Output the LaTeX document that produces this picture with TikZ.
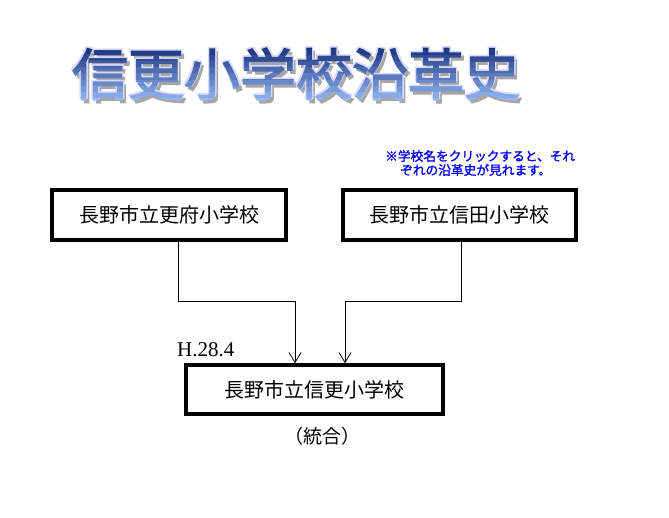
\documentclass[tikz,border=0pt]{standalone}
\usepackage{fontspec}
\newfontfamily\jp{Noto Sans CJK JP}
\newfontfamily\jpbold{Noto Sans CJK JP}[FakeBold=1.5]
\newfontfamily\jptitle{Noto Sans CJK JP}[FakeBold=2.5]
\setmainfont{Liberation Serif}
\usetikzlibrary{arrows.meta}
\definecolor{tdark}{RGB}{20,45,120}
\definecolor{tlight}{RGB}{150,185,245}
\definecolor{notecol}{RGB}{0,0,255}
\newcommand{\ttltxt}{信更小学校沿革史}
\begin{document}
\begin{tikzpicture}[x=1pt,y=-1pt,
  box/.style={draw, line width=3.5pt, inner sep=0pt, font=\jp\fontsize{20}{24}\selectfont},
  arr/.style={-{Straight Barb[length=10pt,width=12pt]}, line width=0.8pt},
  ttl/.style={font=\jptitle\fontsize{56}{60}\selectfont, inner sep=0pt},
  note/.style={font=\jpbold\fontsize{12.7}{14}\selectfont, text=notecol, inner sep=0pt, anchor=west}]
\fill[white] (0,0) rectangle (669,518);
% title shadow and outline
\node[ttl, text=black!35] (tshadow) at (299,77) {\ttltxt};
\foreach \dx/\dy in {-1.5/-1.5,1.5/-1.5}{
  \node[ttl, text=white!85!blue] at (296+\dx,74+\dy) {\ttltxt};
}
\foreach \i in {0,...,9}{
  \pgfmathsetmacro{\p}{\i*100/9}
  \begin{scope}
    \clip (0,43+\i*6.2) rectangle (669,43+\i*6.2+6.3);
    \node[ttl, text=tlight!\p!tdark] at (296,74) {\ttltxt};
  \end{scope}
}
% note
\node[note] (n1) at (385,156) {※学校名をクリックすると、それ};
\node[note] (n2) at (400,170) {ぞれの沿革史が見れます。};
% boxes
\node[box, minimum width=234pt, minimum height=50pt] (b1) at (169,215) {長野市立更府小学校};
\node[box, minimum width=233pt, minimum height=50pt] (b2) at (459.5,215) {長野市立信田小学校};
\node[box, minimum width=257pt, minimum height=49pt] (b3) at (314.5,389.5) {長野市立信更小学校};
% connectors
\draw[arr] ([xshift=9pt]b1.south) -- ++(0,60) -| ([xshift=-19.5pt]b3.north);
\draw[arr] ([xshift=1.5pt]b2.south) -- ++(0,60) -| ([xshift=30.5pt]b3.north);
% labels
\node[font=\fontsize{21}{24}\selectfont, anchor=base west, inner sep=0pt] (date) at (177,356) {H.28.4};
\node[font=\jp\fontsize{19}{22}\selectfont, inner sep=0pt] (merge) at (322,436) {（統合）};
\end{tikzpicture}
\end{document}
